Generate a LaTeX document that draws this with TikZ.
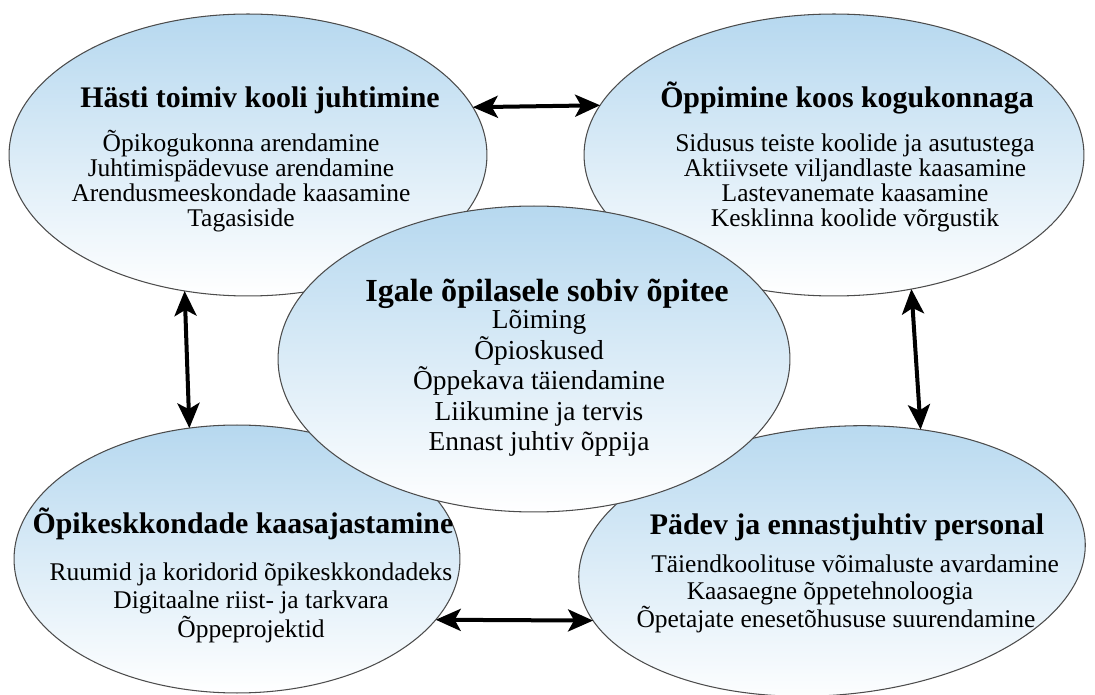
\documentclass[tikz,border=0pt]{standalone}
\usepackage{fontspec}
\setmainfont{Liberation Serif}
\usetikzlibrary{shapes.geometric,arrows.meta,positioning}
\definecolor{bubbleblue}{RGB}{182,216,239}
\tikzset{
  bubble/.style={ellipse, draw=black!70, line width=0.6pt, top color=bubbleblue, bottom color=white, inner sep=0pt, outer sep=0pt},
  head/.style={anchor=base, inner sep=0pt, font=\fontsize{17}{17}\selectfont\bfseries},
  bighead/.style={head, font=\fontsize{18.3}{18.3}\selectfont\bfseries},
  item/.style={anchor=base, inner sep=0pt, font=\fontsize{14.5}{14.5}\selectfont},
  bigitem/.style={item, font=\fontsize{15.6}{15.6}\selectfont},
  link/.style={{Stealth[length=0.5cm,width=0.44cm,inset=0.12cm]}-{Stealth[length=0.5cm,width=0.44cm,inset=0.12cm]}, line width=0.08cm}
}
\begin{document}
\begin{tikzpicture}[x=0.02cm,y=-0.02cm]
      \useasboundingbox (0,0) rectangle (1095,695);
      \node[bubble, minimum width=9.56cm, minimum height=5.64cm] (tl) at (248,155) {};
      \node[bubble, minimum width=10cm, minimum height=5.64cm] (tr) at (834,155) {};
      \node[bubble, minimum width=8.92cm, minimum height=5.36cm] (bl) at (237,559) {};
      \node[bubble, minimum width=10.16cm, minimum height=5.36cm, rotate=5] (br) at (832,561) {};
      \node[bubble, minimum width=10.24cm, minimum height=6.12cm] (c) at (534,359) {};

      \node[head] (tl-head) at (260,108) {Hästi toimiv kooli juhtimine};
      \foreach \txt [count=\i] in {Õpikogukonna arendamine, Juhtimispädevuse arendamine,
          Arendusmeeskondade kaasamine, Tagasiside}
        \node[item] (tl-\i) at (241,{127+25*\i}) {\txt};

      \node[head] (tr-head) at (847,108) {Õppimine koos kogukonnaga};
      \foreach \txt [count=\i] in {Sidusus teiste koolide ja asutustega, Aktiivsete viljandlaste kaasamine,
          Lastevanemate kaasamine, Kesklinna koolide võrgustik}
        \node[item] (tr-\i) at (855,{127+25*\i}) {\txt};

      \node[bighead] (c-head) at (547,302) {Igale õpilasele sobiv õpitee};
      \foreach \txt [count=\i] in {Lõiming, Õpioskused, Õppekava täiendamine,
          Liikumine ja tervis, Ennast juhtiv õppija}
        \node[bigitem] (c-\i) at (539,{298.5+30.5*\i}) {\txt};

      \node[head] (bl-head) at (243,533) {Õpikeskkondade kaasajastamine};
      \foreach \txt [count=\i] in {Ruumid ja koridorid õpikeskkondadeks, Digitaalne riist- ja tarkvara,
          Õppeprojektid}
        \node[item] (bl-\i) at (251,{551.5+28.5*\i}) {\txt};

      \node[head] (br-head) at (847,534) {Pädev ja ennastjuhtiv personal};
      \foreach \px/\txt [count=\i] in {855/Täiendkoolituse võimaluste avardamine,
          830/Kaasaegne õppetehnoloogia, 836/Õpetajate enesetõhususe suurendamine}
        \node[item] (br-\i) at (\px,{544.5+27.5*\i}) {\txt};

      \draw[link] (tl.12) -- (tr.168);
      \draw[link] (tl.245) -- (bl.110);
      \draw[link] (tr.300) -- (br.51);
      \draw[link] (bl.-17) -- (br.189.5);
\end{tikzpicture}
\end{document}
